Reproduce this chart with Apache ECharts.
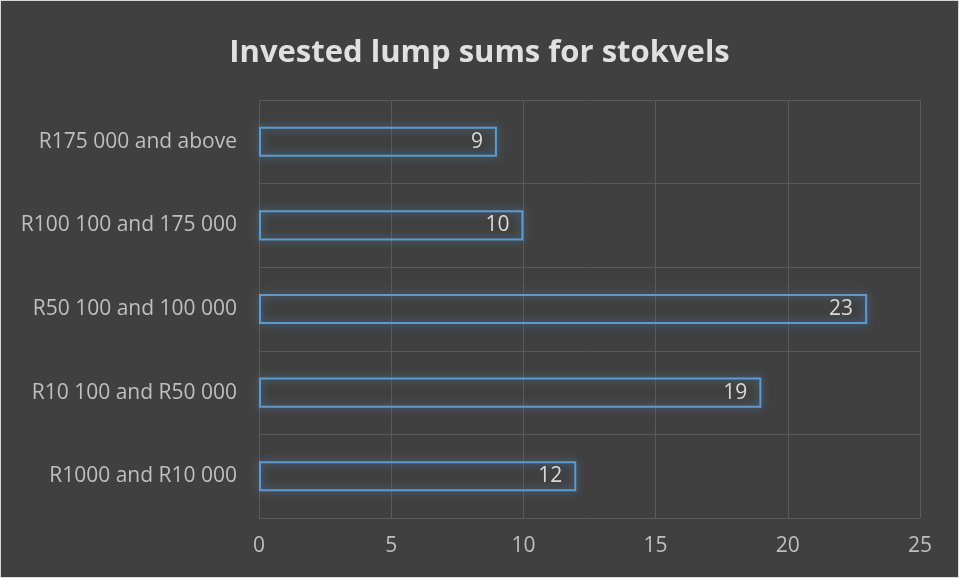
<!DOCTYPE html>
<html><head><meta charset="utf-8">
<script src="https://cdn.jsdelivr.net/npm/echarts@6/dist/echarts.min.js"></script>
<style>
html,body{margin:0;padding:0;background:#404040;}
#c{width:957px;height:576px;border:1px solid #d9d9d9;}
</style></head><body>
<div id="c"></div>
<script>
const categories = ["R1000 and R10 000","R10 100 and R50 000","R50 100 and 100 000","R100 100 and 175 000","R175 000 and above"];
const values = [12, 19, 23, 10, 9];
const xTicks = [0, 5, 10, 15, 20, 25];
const titleText = "Invested lump sums for stokvels";

const chart = echarts.init(document.getElementById('c'));
chart.setOption({
  backgroundColor: '#404040',
  animation: false,
  title: {
    text: titleText, left: 'center', top: 32,
    textStyle: {color: '#e0e0e0', fontSize: 31, fontWeight: 'bold', fontFamily: 'Open Sans'}
  },
  grid: {left: 258, right: 38, top: 99, bottom: 59, containLabel: false},
  xAxis: {
    type: 'value', min: xTicks[0], max: xTicks[xTicks.length-1], interval: 5,
    axisLine: {show: false}, axisTick: {show: false},
    splitLine: {show: true, lineStyle: {color: '#595959', width: 1}},
    axisLabel: {color: '#bfbfbf', fontSize: 21, fontFamily: 'Open Sans', margin: 18}
  },
  yAxis: {
    type: 'category', data: categories,
    axisLine: {show: false}, axisTick: {show: false},
    splitLine: {show: true, lineStyle: {color: '#595959', width: 1}},
    axisLabel: {color: '#bfbfbf', fontSize: 21, fontFamily: 'Open Sans', margin: 22}
  },
  series: [{
    type: 'bar', data: values, barWidth: '36%',
    itemStyle: {
      color: 'rgba(0,0,0,0)', borderColor: '#5b9bd5', borderWidth: 2,
      shadowColor: 'rgba(91,155,213,0.75)', shadowBlur: 9
    },
    label: {show: true, position: 'insideRight', distance: 14, color: '#d9d9d9', fontSize: 21, fontFamily: 'Open Sans'}
  }]
});
</script></body></html>
